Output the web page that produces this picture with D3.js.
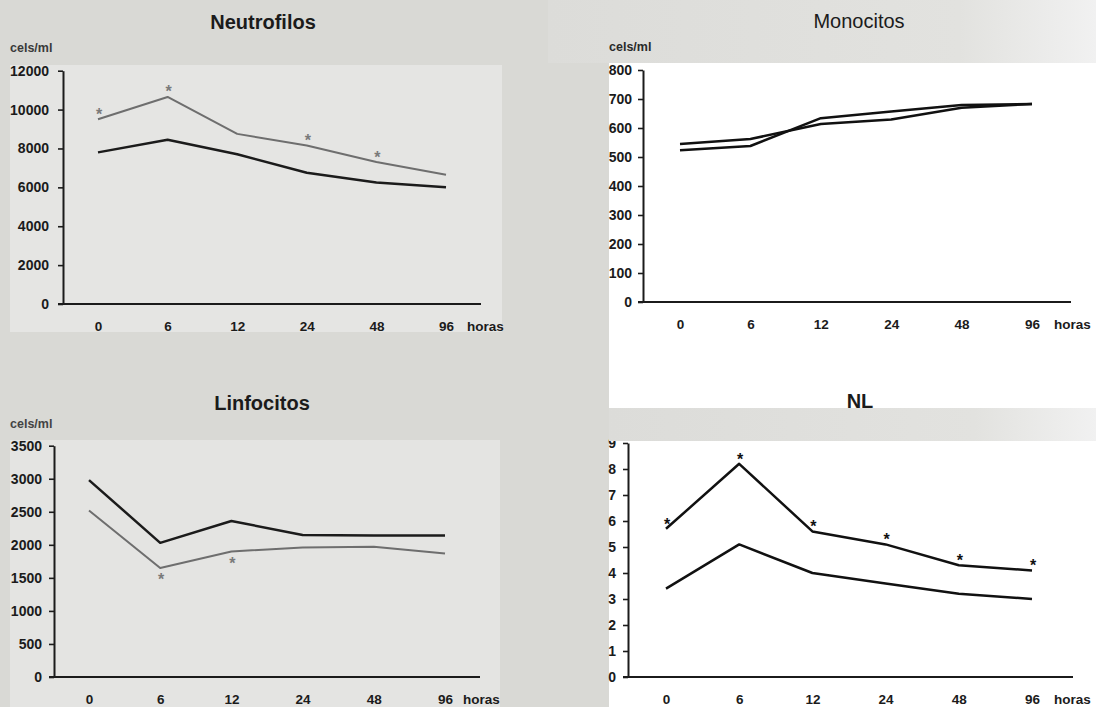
<!DOCTYPE html>
<html>
<head>
<meta charset="utf-8">
<script src="https://cdn.jsdelivr.net/npm/d3@7"></script>
<style>
  html, body { margin: 0; padding: 0; background: #d9d9d5; }
  svg { display: block; font-family: "Liberation Sans", Arial, sans-serif; }
</style>
</head>
<body>
<svg id="chart" width="1096" height="707"></svg>
<script>
// categories (hours)
const hours = ["0", "6", "12", "24", "48", "96"];

// Neutrofilos (cels/ml)
const neutroGray = [9500, 10650, 8750, 8150, 7300, 6650];
const neutroBlack = [7800, 8450, 7700, 6750, 6250, 6000];
const neutroStars = ["0", "6", "24", "48"];
const neutroTicks = [0, 2000, 4000, 6000, 8000, 10000, 12000];

// Monocitos (cels/ml)
const monoA = [545, 562, 614, 629, 670, 683];
const monoB = [523, 538, 634, 657, 679, 683];
const monoTicks = [0, 100, 200, 300, 400, 500, 600, 700, 800];

// Linfocitos (cels/ml)
const linfoBlack = [2980, 2030, 2360, 2150, 2140, 2140];
const linfoGray = [2520, 1650, 1900, 1960, 1970, 1870];
const linfoStars = ["6", "12"];
const linfoTicks = [0, 500, 1000, 1500, 2000, 2500, 3000, 3500];

// NL ratio
const nlUpper = [5.7, 8.2, 5.6, 5.1, 4.3, 4.1];
const nlLower = [3.4, 5.1, 4.0, 3.6, 3.2, 3.0];
const nlStars = ["0", "6", "12", "24", "48", "96"];
const nlTicks = [0, 1, 2, 3, 4, 5, 6, 7, 8, 9];

const svg = d3.select("#chart");
const defs = svg.append("defs");

const fade = defs.append("linearGradient").attr("id", "fade");
fade.append("stop").attr("offset", "0%").attr("stop-color", "#dcdcd9");
fade.append("stop").attr("offset", "75%").attr("stop-color", "#e2e2df");
fade.append("stop").attr("offset", "100%").attr("stop-color", "#f1f1f1");

// page backgrounds (scan look)
svg.append("rect").attr("x", 0).attr("y", 0).attr("width", 1096).attr("height", 707).attr("fill", "#d9d9d5");
svg.append("rect").attr("x", 548).attr("y", 0).attr("width", 548).attr("height", 63).attr("fill", "url(#fade)");
svg.append("rect").attr("x", 10).attr("y", 65).attr("width", 492).attr("height", 267).attr("fill", "#e5e5e3");
svg.append("rect").attr("x", 10).attr("y", 440).attr("width", 490).attr("height", 267).attr("fill", "#e4e4e2");
svg.append("rect").attr("x", 609).attr("y", 63).attr("width", 487).attr("height", 644).attr("fill", "#ffffff");

const ink = "#1b1b1b";

function drawPanel(p) {
  const g = svg.append("g");
  const x = d3.scalePoint().domain(hours).range(p.xRange);
  const y = d3.scaleLinear().domain([0, p.ticks[p.ticks.length - 1]]).range(p.yRange);

  // title + unit
  g.append("text")
    .attr("x", p.titleX).attr("y", p.titleY)
    .attr("text-anchor", "middle")
    .attr("font-size", 20)
    .attr("font-weight", p.titleWeight)
    .attr("fill", ink)
    .text(p.title);
  if (p.unitX != null) {
    g.append("text")
      .attr("x", p.unitX).attr("y", p.unitY)
      .attr("font-size", 12.5)
      .attr("font-weight", "bold")
      .attr("fill", p.unitColor)
      .text("cels/ml");
  }

  // y axis
  const yAxis = g.append("g")
    .attr("transform", `translate(${p.axisX},0)`)
    .call(d3.axisLeft(y).tickValues(p.ticks).tickFormat(d3.format("d"))
      .tickSize(5).tickSizeOuter(0).tickPadding(p.yPad));
  yAxis.select(".domain").attr("stroke", ink).attr("stroke-width", 2);
  yAxis.selectAll(".tick line").attr("stroke", ink).attr("stroke-width", 1.6);
  yAxis.selectAll(".tick text")
    .attr("font-size", 14).attr("font-weight", "bold")
    .attr("font-family", "Liberation Sans, Arial, sans-serif")
    .attr("fill", ink);

  // x axis line
  g.append("line")
    .attr("x1", p.axisX - 5).attr("x2", p.xEnd)
    .attr("y1", y(0)).attr("y2", y(0))
    .attr("stroke", ink).attr("stroke-width", 2.2);

  // x labels
  const xAxis = g.append("g")
    .attr("transform", `translate(0,${y(0)})`)
    .call(d3.axisBottom(x).tickSize(0).tickPadding(17));
  xAxis.select(".domain").remove();
  xAxis.selectAll(".tick text")
    .attr("font-size", 13.5).attr("font-weight", "bold")
    .attr("font-family", "Liberation Sans, Arial, sans-serif")
    .attr("fill", ink);
  g.append("text")
    .attr("x", p.horasX).attr("y", y(0) + 17)
    .attr("dy", "0.71em")
    .attr("font-size", 13.5).attr("font-weight", "bold")
    .attr("fill", ink)
    .text("horas");

  // series
  const line = d3.line().x((d, i) => x(hours[i])).y(d => y(d));
  p.series.forEach(s => {
    g.append("path")
      .datum(s.values)
      .attr("fill", "none")
      .attr("stroke", s.color)
      .attr("stroke-width", s.width)
      .attr("stroke-linejoin", "round")
      .attr("d", line);
  });

  // significance marks
  if (p.stars) {
    const vals = p.stars.values;
    g.selectAll(".star")
      .data(p.stars.at)
      .enter()
      .append("text")
      .attr("class", "star")
      .attr("x", h => x(h) + 1)
      .attr("y", h => y(vals[hours.indexOf(h)]) + p.stars.dy + 9.5)
      .attr("text-anchor", "middle")
      .attr("font-size", 16)
      .attr("font-weight", "bold")
      .attr("fill", p.stars.color)
      .text("*");
  }
  return g;
}

drawPanel({
  title: "Neutrofilos", titleX: 263, titleY: 29, titleWeight: "bold",
  unitX: 10, unitY: 52, unitColor: "#3a3a3a",
  xRange: [98, 446], yRange: [304, 70.7], ticks: neutroTicks,
  axisX: 63, xEnd: 481, yPad: 9, horasX: 467,
  series: [
    { values: neutroGray, color: "#6e6e6e", width: 2 },
    { values: neutroBlack, color: "#1b1b1b", width: 2.5 }
  ],
  stars: { at: neutroStars, values: neutroGray, dy: -9, color: "#7a7a7a" }
});

drawPanel({
  title: "Monocitos", titleX: 859, titleY: 27.5, titleWeight: "normal",
  unitX: 609, unitY: 51, unitColor: "#2a2a2a",
  xRange: [680, 1032], yRange: [302, 70], ticks: monoTicks,
  axisX: 643, xEnd: 1071, yPad: 6, horasX: 1054,
  series: [
    { values: monoA, color: "#111111", width: 2.5 },
    { values: monoB, color: "#111111", width: 2.5 }
  ]
});

drawPanel({
  title: "Linfocitos", titleX: 262, titleY: 409.5, titleWeight: "bold",
  unitX: 10, unitY: 427.5, unitColor: "#444444",
  xRange: [89, 445], yRange: [677, 445.7], ticks: linfoTicks,
  axisX: 54, xEnd: 480, yPad: 7, horasX: 463,
  series: [
    { values: linfoBlack, color: "#1b1b1b", width: 2.5 },
    { values: linfoGray, color: "#6e6e6e", width: 2 }
  ],
  stars: { at: linfoStars, values: linfoGray, dy: 8, color: "#7a7a7a" }
});

drawPanel({
  title: "NL", titleX: 860, titleY: 408, titleWeight: "bold",
  unitX: null,
  xRange: [666, 1032], yRange: [677, 443], ticks: nlTicks,
  axisX: 628, xEnd: 1073, yPad: 7, horasX: 1054,
  series: [
    { values: nlUpper, color: "#111111", width: 2.5 },
    { values: nlLower, color: "#111111", width: 2.5 }
  ],
  stars: { at: nlStars, values: nlUpper, dy: -8.5, color: "#111111" }
});

// scanned gray band across the top of the NL panel
svg.append("rect").attr("x", 609).attr("y", 408).attr("width", 487).attr("height", 33).attr("fill", "url(#fade)");
</script>
</body>
</html>
